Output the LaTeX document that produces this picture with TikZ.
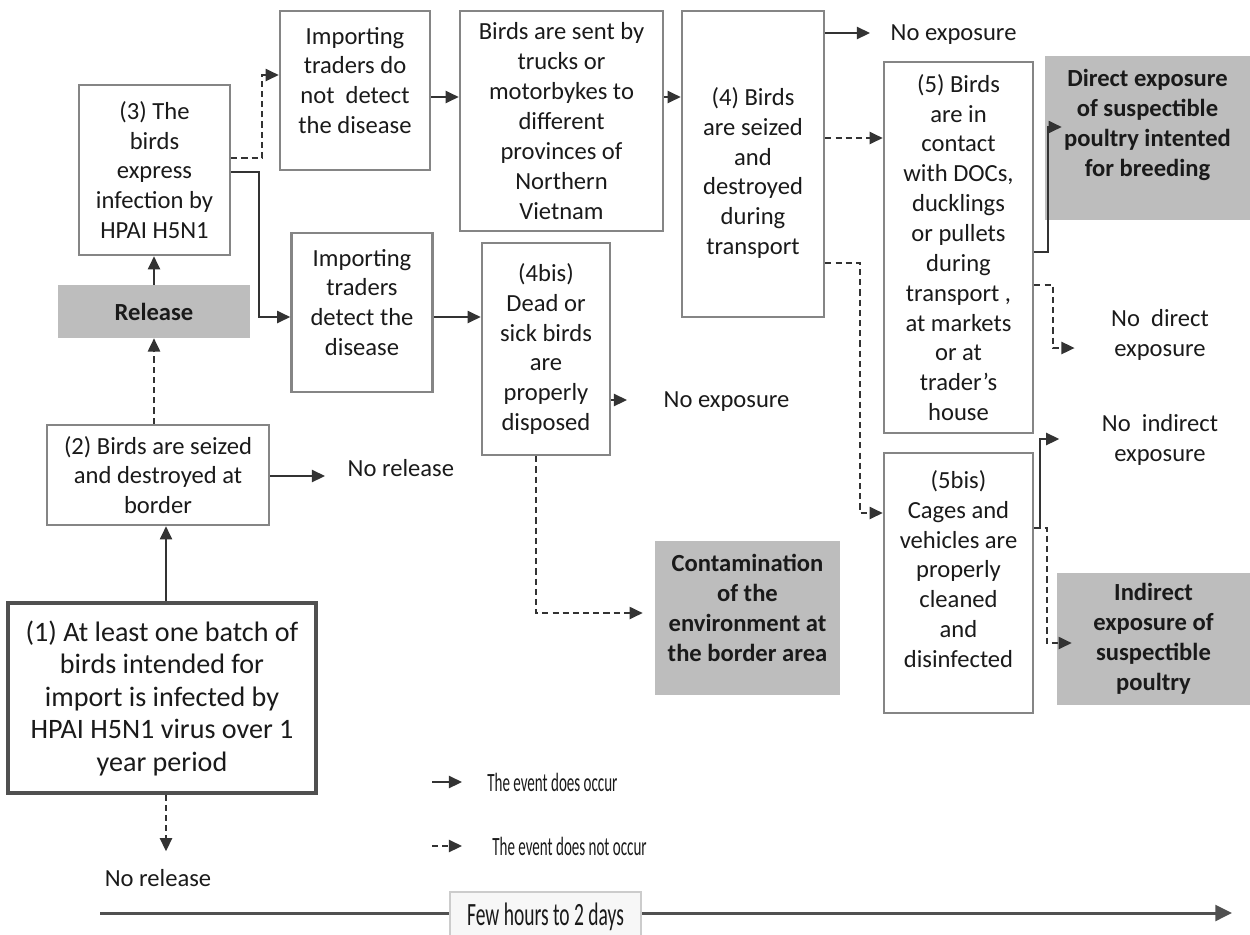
\documentclass[tikz,border=0pt]{standalone}
\usepackage{fontspec}
\setmainfont{Carlito}
\usepackage{graphicx}
\usetikzlibrary{arrows.meta,calc}
\definecolor{boxline}{HTML}{858585}
\definecolor{boxdark}{HTML}{505050}
\definecolor{greyfill}{HTML}{BDBDBD}
\definecolor{arrowc}{HTML}{333333}
\definecolor{txt}{HTML}{1A1A1A}
\begin{document}
\begin{tikzpicture}[x=0.02cm,y=-0.02cm,
  every node/.style={text=txt, font=\fontsize{14}{17}\selectfont, align=center, inner sep=2pt},
  evbox/.style={draw=boxline, line width=1.5pt, fill=white},
  outbox/.style={fill=greyfill, font=\fontsize{14}{17}\selectfont\bfseries},
  boldtext/.style={font=\fontsize{14}{17}\selectfont\bfseries},
  lbl/.style={inner sep=3pt},
  yes/.style={draw=arrowc, line width=0.9pt, -{Triangle[length=7.5pt,width=7pt]}},
  no/.style={yes, dash pattern=on 3.5pt off 2.3pt},
  condensed/.style={inner sep=0pt, anchor=west, font=\fontsize{15}{17}\selectfont}
]
\useasboundingbox (0,0) rectangle (1250,934);

% event boxes
\node[evbox, minimum width=3.02cm, minimum height=3.4cm] (b3) at (154.5,170) {(3) The\\birds\\express\\infection by\\HPAI H5N1};
\node[evbox, minimum width=3.0cm, minimum height=3.18cm] (nd) at (355,90.5) {};
\node (ndt) at (355,80.5) {Importing\\traders do\\not\ \ detect\\the disease};
\node[evbox, minimum width=4.06cm, minimum height=4.4cm] (sent) at (561.5,121) {Birds are sent by\\trucks or\\motorbykes to\\different\\provinces of\\Northern\\Vietnam};
\node[evbox, minimum width=2.84cm, minimum height=6.12cm] (b4) at (753,164) {};
\node (b4t) at (753,173) {(4) Birds\\are seized\\and\\destroyed\\during\\transport};
\node[evbox, minimum width=2.82cm, minimum height=3.18cm] (det) at (362,312.5) {};
\node (dett) at (362,302.5) {Importing\\traders\\detect the\\disease};
\node[evbox, minimum width=2.56cm, minimum height=4.24cm] (b4bis) at (546,349) {(4bis)\\Dead or\\sick birds\\are\\properly\\disposed};
\node[evbox, minimum width=2.98cm, minimum height=7.42cm] (b5) at (958.5,247.5) {(5) Birds\\are in\\contact\\with DOCs,\\ducklings\\or pullets\\during\\transport ,\\at markets\\or at\\trader’s\\house};
\node[evbox, minimum width=2.98cm, minimum height=5.2cm] (b5bis) at (958.5,583) {};
\node (b5bist) at (958.5,569) {(5bis)\\Cages and\\vehicles are\\properly\\cleaned\\and\\disinfected};
\node[evbox, minimum width=4.44cm, minimum height=2.0cm] (b2) at (158,475) {(2) Birds are seized\\and destroyed at\\border};
\node[evbox, draw=boxdark, line width=1.9pt, minimum width=6.16cm, minimum height=3.8cm, font=\fontsize{16}{18.5}\selectfont] (b1) at (162,698) {(1) At least one batch of\\birds intended for\\import is infected by\\HPAI H5N1 virus over 1\\year period};

% outcome boxes
\node[outbox, minimum width=3.84cm, minimum height=1.06cm] (release) at (154,311.5) {Release};
\node[outbox, minimum width=4.1cm, minimum height=3.28cm] (direct) at (1147.5,138) {};
\node[boldtext] (directt) at (1147.5,125) {Direct exposure\\of suspectible\\poultry intented\\for breeding};
\node[outbox, minimum width=3.7cm, minimum height=3.08cm] (contam) at (747.5,618) {};
\node[boldtext] (contamt) at (747.5,608) {Contamination\\of the\\environment at\\the border area};
\node[outbox, minimum width=3.86cm, minimum height=2.64cm] (indirect) at (1153.5,639) {Indirect\\exposure of\\suspectible\\poultry};

% plain labels
\node[lbl, anchor=west] (ne1) at (885,35) {No exposure};
\node[lbl, anchor=west] (ne2) at (658,402) {No exposure};
\node[lbl, anchor=west] (nr1) at (342,468) {No release};
\node[lbl] (nr2) at (158,878) {No release};
\node[lbl] (ndir) at (1160,335) {No\ \ direct\\exposure};
\node[lbl] (nind) at (1160,440) {No\ \ indirect\\exposure};

% connectors
\draw[yes] (release.north) -- (release.north |- b3.south);
\draw[no] (release.south |- b2.north) -- (release.south);
\draw[yes] ([xshift=0.08cm]b1.north) -- ([xshift=0.08cm]b1.north |- b2.south);
\draw[no, shorten >=0.25cm] ([xshift=0.08cm]b1.south) -- ([xshift=0.08cm]b1.south |- nr2.north);
\draw[yes, shorten >=0.34cm] (b2.east |- 0,476) -- (nr1.west |- 0,476);
\draw[no] (b3.east |- 0,158) -- (262,158) |- (nd.west |- 0,75);
\draw[yes] (b3.east |- 0,172) -- (259,172) |- (det.west |- 0,317);
\draw[yes] (nd.east |- 0,97) -- (sent.west |- 0,97);
\draw[yes] (sent.east |- 0,97) -- (b4.west |- 0,97);
\draw[yes] (det.east |- 0,317) -- (b4bis.west |- 0,317);
\draw[yes, shorten >=0.62cm] (b4bis.east |- 0,400) -- (ne2.west |- 0,400);
\draw[no, shorten >=0.24cm] (b4bis.south -| 536,0) |- (contam.west |- 0,613);
\draw[yes, shorten >=0.3cm] (b4.east |- 0,33) -- (ne1.west |- 0,33);
\draw[no] (b4.east |- 0,138) -- (b5.west |- 0,138);
\draw[no] (b4.east |- 0,263) -- (860,263) |- (b5bis.west |- 0,513);
\draw[yes] (b5.east |- 0,252) -- (1048,252) |- ([xshift=0.34cm]direct.west |- 0,127);
\draw[no, shorten >=0.62cm] (b5.east |- 0,285) -- (1053,285) |- (ndir.west |- 0,348);
\draw[yes, shorten >=0.74cm] (b5bis.east |- 0,528) -- (1040,528) |- (nind.west |- 0,439);
\draw[no] (b5bis.east |- 0,528) -- (1047,528) |- ([xshift=0.3cm]indirect.west |- 0,643);

% legend
\coordinate (ly1) at (432,782);
\coordinate (ly2) at (462,782);
\coordinate (ln1) at (432,846);
\coordinate (ln2) at (462,846);
\draw[yes] (ly1) -- (ly2);
\draw[no] (ln1) -- (ln2);
\node[condensed] (lyt) at (487,782) {\scalebox{0.57}[1]{The event does occur}};
\node[condensed] (lnt) at (492,846) {\scalebox{0.57}[1]{The event does not occur}};

% timeline
\coordinate (t0) at (100,913);
\coordinate (t1) at (1232,913);
\draw[draw=boxdark, line width=1.7pt, -{Triangle[length=9.5pt,width=9pt]}] (t0) -- (t1);
\node[draw=gray!40, fill=gray!6, line width=1pt, minimum width=3.82cm, minimum height=1.0cm, font=\fontsize{18.5}{20}\selectfont] (few) at (545.5,917) {\scalebox{0.6}[1]{Few hours to 2 days}};
\end{tikzpicture}
\end{document}
